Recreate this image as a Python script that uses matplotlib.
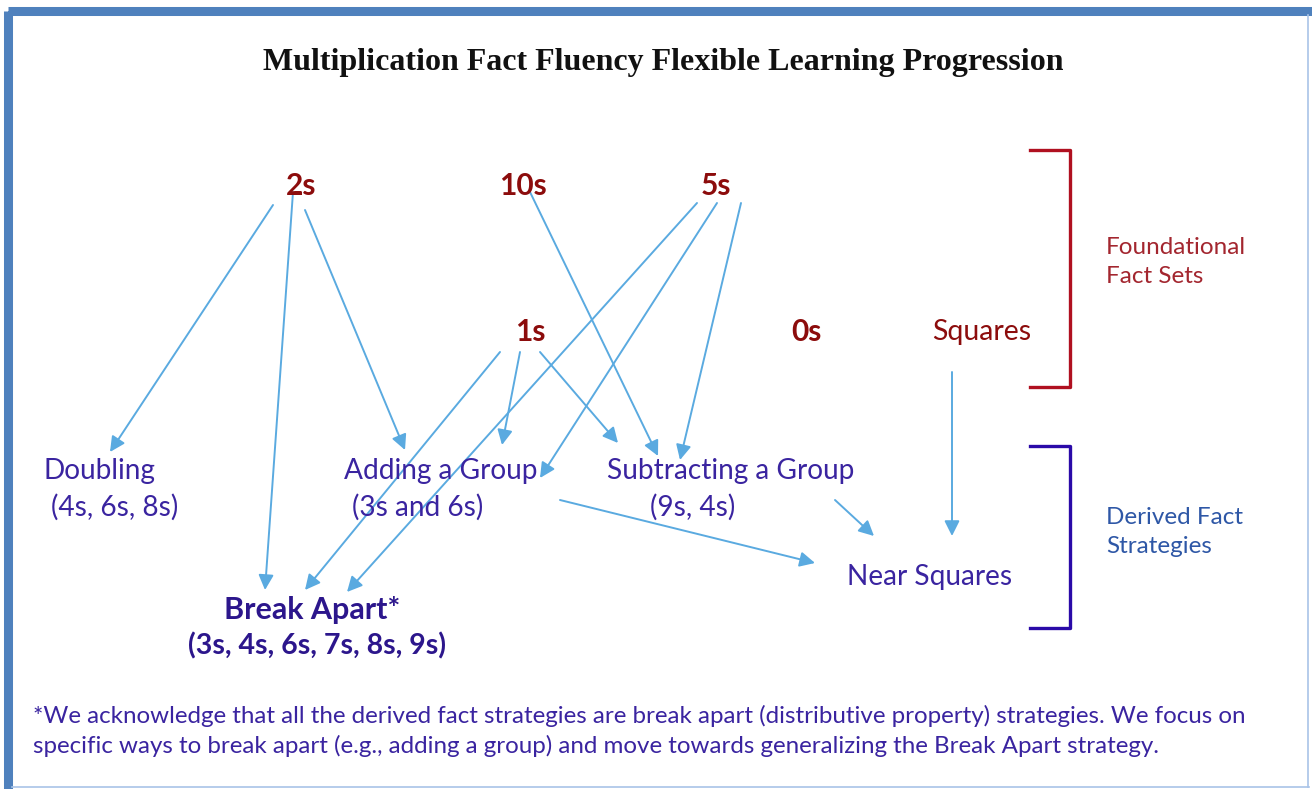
import matplotlib
matplotlib.use("Agg")
import matplotlib.pyplot as plt
from matplotlib.patches import FancyArrowPatch, Rectangle

# chart text
title = "Multiplication Fact Fluency Flexible Learning Progression"
fact_sets = ["2s", "10s", "5s", "1s", "0s"]
squares_label = "Squares"
strategies = ["Doubling", "Adding a Group", "Subtracting a Group", "Near Squares"]
strategy_sets = ["(4s, 6s, 8s)", "(3s and 6s)", "(9s, 4s)", ""]
break_apart = ["Break Apart*", "(3s, 4s, 6s, 7s, 8s, 9s)"]
group_labels = ["Foundational\nFact Sets", "Derived Fact\nStrategies"]
footnote = ("*We acknowledge that all the derived fact strategies are break apart (distributive property) strategies. We focus on\n"
            "specific ways to break apart (e.g., adding a group) and move towards generalizing the Break Apart strategy.")

# which fact set / strategy feeds which
edges = [("2s", "Doubling"), ("2s", "Break Apart*"), ("2s", "Adding a Group"),
         ("10s", "Subtracting a Group"),
         ("5s", "Break Apart*"), ("5s", "Adding a Group"), ("5s", "Subtracting a Group"),
         ("1s", "Break Apart*"), ("1s", "Adding a Group"), ("1s", "Subtracting a Group"),
         ("Adding a Group", "Near Squares"), ("Subtracting a Group", "Near Squares"),
         ("Squares", "Near Squares")]

# layout (pixel coords, y down)
fact_pos = {"2s": (301, 186), "10s": (523, 186), "5s": (716, 186), "1s": (530, 332), "0s": (806, 332)}
squares_pos = (982, 332)
strat_pos = {"Doubling": (99, 471), "Adding a Group": (441, 471),
             "Subtracting a Group": (731, 471), "Near Squares": (930, 577)}
sub_pos = {"Doubling": (115, 507), "Adding a Group": (418, 507),
           "Subtracting a Group": (693, 507), "Near Squares": (930, 613)}
break_pos = [(312, 610), (317, 646)]
edge_pts = [((273, 205), (110, 452)), ((293, 192), (265, 590)), ((305, 210), (405, 450)),
            ((530, 192), (658, 456)),
            ((697, 203), (347, 592)), ((717, 203), (540, 478)), ((741, 203), (680, 460)),
            ((500, 352), (305, 590)), ((520, 352), (502, 445)), ((540, 352), (618, 443)),
            ((560, 500), (815, 563)), ((835, 500), (874, 536)),
            ((952, 372), (952, 536))]

W, H = 1312, 789
fig = plt.figure(figsize=(W / 100, H / 100), dpi=100)
ax = fig.add_axes([0, 0, 1, 1])
ax.set_xlim(0, W)
ax.set_ylim(H, 0)
ax.axis("off")

red = "#8c0c0c"
purple = "#3a24a0"
dpurple = "#2c168c"
arrow_c = "#5aaae0"
sans = ["Lato", "DejaVu Sans"]

# frame
ax.add_patch(Rectangle((8, 11), 1306, 800, fill=False, ec="#4f81bd", lw=6.5, zorder=5))
ax.plot([12, 1309], [787, 787], color="#a9c4e8", lw=1.2, zorder=5)
ax.plot([1308, 1308], [15, 787], color="#a9c4e8", lw=1.2, zorder=5)

ax.text(663, 62, title, ha="center", va="center", fontsize=23, fontweight="bold",
        family=["Liberation Serif", "DejaVu Serif"], color="#111111")

for name in fact_sets:
    x, y = fact_pos[name]
    ax.text(x, y, name, ha="center", va="center", fontsize=21.5, fontweight="bold", color=red, family=sans)
ax.text(*squares_pos, squares_label, ha="center", va="center", fontsize=20.5, color=red, family=sans)

for name, sub in zip(strategies, strategy_sets):
    x, y = strat_pos[name]
    ax.text(x, y, name, ha="center", va="center", fontsize=20.2, color=purple, family=sans)
    if sub:
        ax.text(*sub_pos[name], sub, ha="center", va="center", fontsize=20.2, color=purple, family=sans)
ax.text(*break_pos[0], break_apart[0], ha="center", va="center", fontsize=22, fontweight="bold",
        color=dpurple, family=sans)
ax.text(*break_pos[1], break_apart[1], ha="center", va="center", fontsize=20.5, fontweight="bold",
        color=dpurple, family=sans)

for (a, b) in edge_pts:
    ax.add_patch(FancyArrowPatch(a, b, arrowstyle="-|>,head_length=0.7,head_width=0.35",
                                 mutation_scale=13, color=arrow_c, lw=1.4, shrinkA=0, shrinkB=0))

# brackets
ax.plot([1030, 1070, 1070, 1030], [150, 150, 387, 387], color="#b01020", lw=2.4, solid_joinstyle="round")
ax.plot([1030, 1070, 1070, 1030], [446, 446, 628, 628], color="#2a0aa8", lw=2.4, solid_joinstyle="round")
ax.text(1106, 262, group_labels[0], ha="left", va="center", fontsize=17.5, color="#a3262f",
        family=sans, linespacing=1.42)
ax.text(1106, 532, group_labels[1], ha="left", va="center", fontsize=17.5, color="#2e57a6",
        family=sans, linespacing=1.42)

ax.text(33, 731, footnote, ha="left", va="center", fontsize=17.4, color=purple, family=sans, linespacing=1.42)

fig.savefig("out.png", dpi=100)
